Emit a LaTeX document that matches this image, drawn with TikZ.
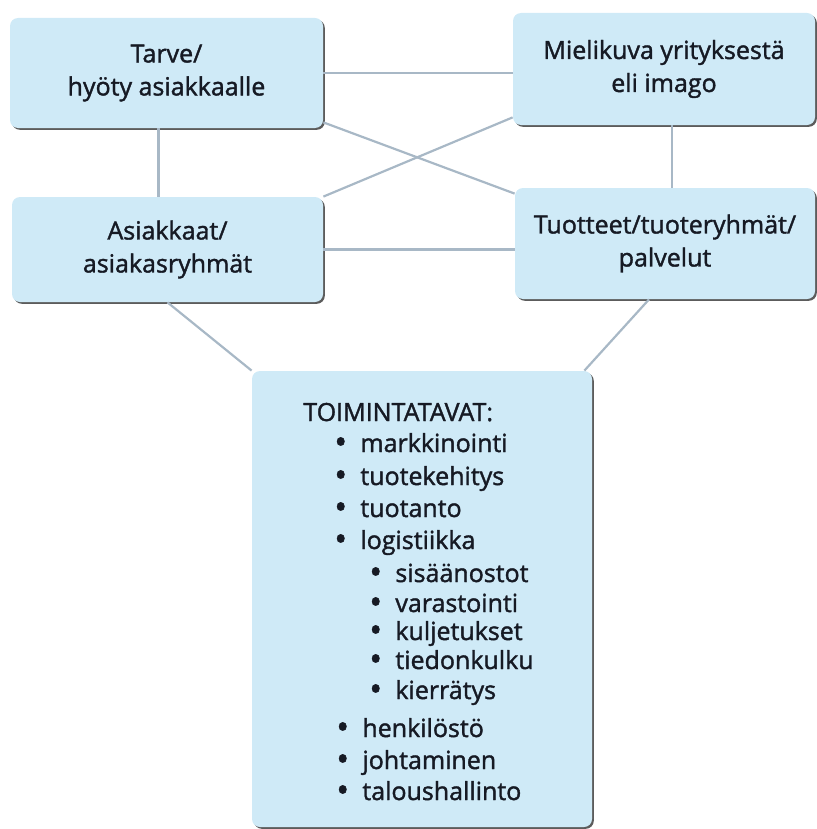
\documentclass[tikz,border=0pt]{standalone}
\usepackage{fontspec}
\setmainfont{Open Sans}[FakeBold=1.5]
\usetikzlibrary{positioning,
        shadows}
\definecolor{boxblue}{RGB}{207,234,247}
\definecolor{linkgray}{RGB}{168,184,198}
\definecolor{inkdark}{RGB}{22,26,36}
\newcommand{\dotmark}{\raisebox{-0.9pt}{\scalebox{1.35}{\textbullet}}}

\begin{document}
\begin{tikzpicture}[x=0.5pt, y=-0.5pt,
    infobox/.style={rectangle, rounded corners=4pt, fill=boxblue, align=center, text=inkdark,
        font=\fontsize{12.5}{16.5}\selectfont,
        drop shadow={shadow xshift=0.9pt, shadow yshift=-0.9pt, fill=black!75, opacity=0.85}},
    link/.style={draw=linkgray, line width=1.1pt},
    listitem/.style={anchor=base west, inner sep=0pt, text=inkdark, font=\fontsize{12.5}{15}\selectfont}]
            \useasboundingbox (0,0) rectangle (817,829);

            \node [infobox, minimum width=156.5pt, minimum height=55pt] (tarve) at (166.5,73) {Tarve/\\hyöty asiakkaalle};
            \node [infobox, minimum width=151pt, minimum height=56pt] (imago) at (664,69) {Mielikuva yrityksestä\\eli imago};
            \node [infobox, minimum width=155.5pt, minimum height=52.5pt] (asiakkaat) at (167.5,249.5) {Asiakkaat/\\asiakasryhmät};
            \node [infobox, minimum width=150pt, minimum height=55.5pt] (tuotteet) at (665,243.5) {Tuotteet/tuoteryhmät/\\palvelut};
            \node [infobox, minimum width=170pt, minimum height=228pt] (toiminta) at (422,599) {};

            \node [listitem] (otsikko) at (303,421) {TOIMINTATAVAT:};
            \foreach \ypos/\xpos/\txt [count=\n] in {452/334/markkinointi, 485/334/tuotekehitys, 517/334/tuotanto,
                    549/334/logistiikka, 582/369/sisäänostot, 612/369/varastointi, 640/369/kuljetukset,
                    669/369/tiedonkulku, 699/369/kierrätys, 737/336/henkilöstö, 769/336/johtaminen,
                    800/336/taloushallinto}
                \node [listitem] (kohta\n) at (\xpos,\ypos) {\makebox[13pt][l]{\dotmark}\txt};

            \draw [link] (tarve.east) -- (tarve.east -| imago.west);
            \draw [link] (asiakkaat.east) -- (asiakkaat.east -| tuotteet.west);
            \draw [link] ([xshift=-4pt]tarve.south) -- ([xshift=-4pt]tarve.south |- asiakkaat.north);
            \draw [link] ([xshift=4pt]imago.south) -- ([xshift=4pt]imago.south |- tuotteet.north);
            \draw [link] ([yshift=3pt]tarve.south east) -- ([yshift=-3pt]tuotteet.north west);
            \draw [link] (asiakkaat.north east) -- ([yshift=4pt]imago.south west);
            \draw [link] (asiakkaat.south) -- (toiminta.north west);
            \draw [link] ([xshift=-8pt]tuotteet.south) -- ([xshift=-4pt]toiminta.north east);
\end{tikzpicture}
\end{document}
